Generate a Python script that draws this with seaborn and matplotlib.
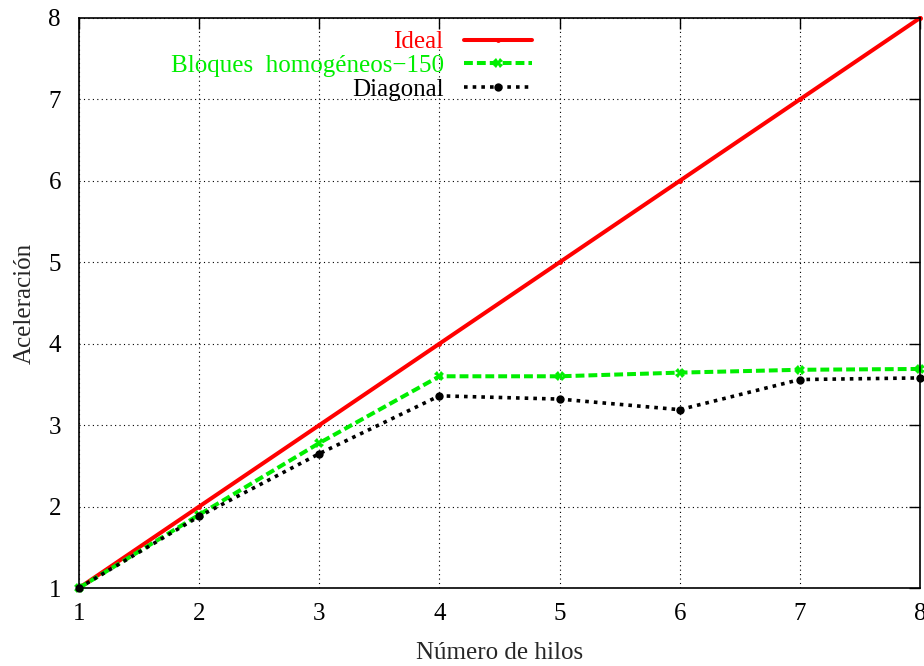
import matplotlib
matplotlib.use("Agg")
import matplotlib.pyplot as plt
import seaborn as sns
import pandas as pd

hilos = [1, 2, 3, 4, 5, 6, 7, 8]
ideal = [1, 2, 3, 4, 5, 6, 7, 8]
bloques = [1.0, 1.90, 2.78, 3.60, 3.60, 3.645, 3.68, 3.69]
diagonal = [1.0, 1.88, 2.65, 3.36, 3.32, 3.19, 3.56, 3.58]

series_names = ["Ideal", "Bloques  homogéneos\u2212150", "Diagonal"]
series_values = [ideal, bloques, diagonal]
series_colors = ["#ff0000", "#00ee00", "#000000"]

sns.set_style("white")
plt.rcParams["font.family"] = ["Liberation Serif", "DejaVu Serif"]

fig = plt.figure(figsize=(9.24, 6.66), dpi=100)
ax = fig.add_axes([0.0855, 0.1171, 0.9102, 0.8559])

styles = [
    dict(linestyle="-", linewidth=2.9, marker="o", markersize=3.5),
    dict(linestyle=(0, (2.2, 1.0)), linewidth=2.9, marker="X", markersize=7),
    dict(linestyle=(0, (1.0, 1.4)), linewidth=2.6, marker="o", markersize=6),
]

for name, vals, col, st in zip(series_names, series_values, series_colors, styles):
    df = pd.DataFrame({"hilos": hilos, "val": vals})
    sns.lineplot(data=df, x="hilos", y="val", ax=ax, color=col, label=name,
                 markeredgewidth=0, clip_on=False, **st)

ax.set_xlim(1, 8)
ax.set_ylim(1, 8)
ax.set_xticks(range(1, 9))
ax.set_yticks(range(1, 9))
ax.tick_params(direction="in", length=8, width=1, top=True, right=True,
               labelsize=18, colors="black")
ax.tick_params(axis="x", pad=11)
ax.tick_params(axis="y", pad=13)
ax.grid(True, color="black", linestyle=(0, (1, 3)), linewidth=0.8)
for sp in ax.spines.values():
    sp.set_color("black")
    sp.set_linewidth(1.2)

ax.set_xlabel("Número de hilos", fontsize=18, labelpad=12)
ax.set_ylabel("Aceleración", fontsize=18, labelpad=9)

leg = ax.legend(loc="upper right", bbox_to_anchor=(0.551, 0.995), frameon=False,
                markerfirst=False, fontsize=18, handlelength=2.75, handletextpad=0.8,
                labelspacing=0.05, borderaxespad=0)
for txt, col in zip(leg.get_texts(), series_colors):
    txt.set_color(col)

fig.savefig("out.png", dpi=100)
